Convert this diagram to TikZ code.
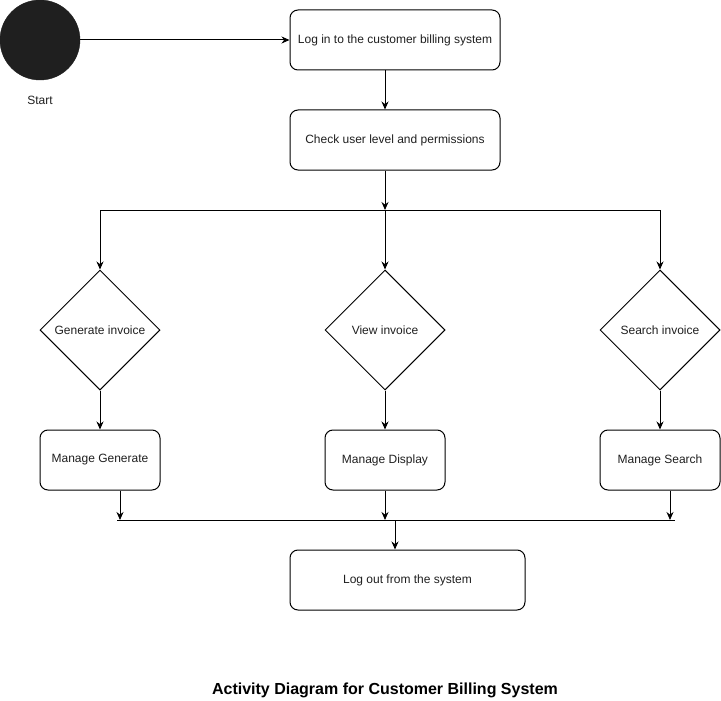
\documentclass[tikz,border=0pt]{standalone}
\usepackage{fontspec}
\setmainfont{Liberation Sans}
\usetikzlibrary{shapes.geometric,arrows.meta}
\begin{document}
\begin{tikzpicture}[x=1pt,y=-1pt,
  every node/.style={font=\fontsize{12}{14}\selectfont, text=black!88},
  box/.style={draw, line width=1pt, rounded corners=8pt, minimum height=60pt, inner sep=0pt},
  dec/.style={draw, diamond, line width=1pt, minimum size=120pt, inner sep=0pt},
  conn/.style={line width=1pt, -{Stealth[length=8pt,width=7pt]}},
  bar/.style={line width=1pt}]
\useasboundingbox (0,0) rectangle (721,701);
\node[circle, fill=black!88, draw=black!88, minimum size=80pt, inner sep=0pt] (start) at (40,40) {};
\node (startlbl) at (40,100) {Start};
\node[box, minimum width=210pt] (login) at (395,40) {Log in to the customer billing system};
\node[box, minimum width=210pt] (check) at (395,140) {Check user level and permissions};
\coordinate (forkM) at (385,210);
\coordinate (forkL) at (100,210);
\coordinate (forkR) at (660,210);
\node[dec] (gen) at (100,330) {Generate invoice};
\node[dec] (view) at (385,330) {View invoice};
\node[dec] (search) at (660,330) {Search invoice};
\node[box, minimum width=120pt] (mgen) at (100,460) {Manage Generate};
\node[box, minimum width=120pt] (mdisp) at (385,460) {Manage Display};
\node[box, minimum width=120pt] (msearch) at (660,460) {Manage Search};
\coordinate (joinL) at (117,520);
\coordinate (joinR) at (675,520);
\coordinate (j1) at (120,520);
\coordinate (j2) at (385,520);
\coordinate (j3) at (670,520);
\coordinate (j0) at (395,520);
\node[box, minimum width=235pt] (logout) at (407.5,580) {Log out from the system};
\node[font=\fontsize{16}{18}\selectfont\bfseries, text=black] (title) at (385,690) {Activity Diagram for Customer Billing System};
% connectors
\draw[conn] (start.east) -- (login.west);
\draw[conn] (login.south -| 385,0) -- (check.north -| 385,0);
\draw[conn] (check.south -| 385,0) -- (forkM);
\draw[bar] (forkL) -- (forkR);
\draw[conn] (forkL) -- (gen.north);
\draw[conn] (forkM) -- (view.north);
\draw[conn] (forkR) -- (search.north);
\draw[conn] (gen.south) -- (mgen.north);
\draw[conn] (view.south) -- (mdisp.north);
\draw[conn] (search.south) -- (msearch.north);
\draw[conn] (mgen.south -| j1) -- (j1);
\draw[conn] (mdisp.south) -- (j2);
\draw[conn] (msearch.south -| j3) -- (j3);
\draw[bar] (joinL) -- (joinR);
\draw[conn] (j0) -- (logout.north -| j0);
\end{tikzpicture}
\end{document}
